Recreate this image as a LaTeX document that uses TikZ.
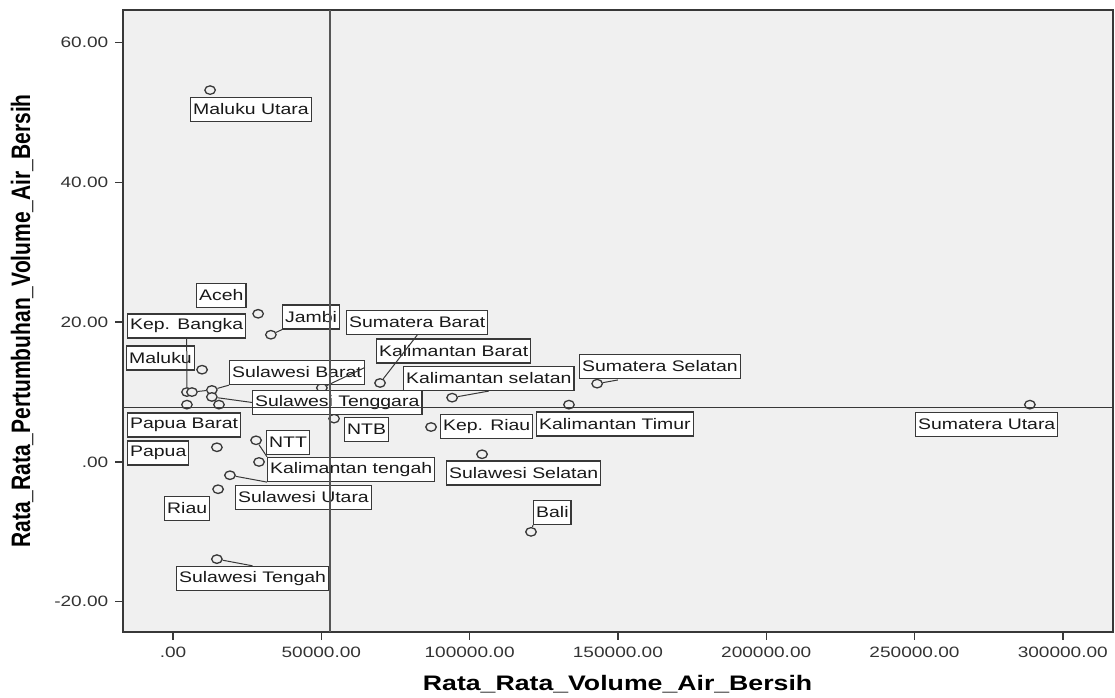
\documentclass[tikz,border=0pt]{standalone}
\usepackage{graphicx}
\usepackage{fontspec}
\setmainfont{Liberation Sans}[FakeStretch=1.27]
\newfontfamily\plainsans{Liberation Sans}
\definecolor{spssPanel}{HTML}{F0F0F0}
\definecolor{spssLine}{HTML}{383838}
\usetikzlibrary{shapes.geometric}

\begin{document}
\begin{tikzpicture}[x=2.966pt, y=6.99pt,
                    obs/.style={ellipse, draw=spssLine, fill=spssPanel, line width=1.3pt,
                                minimum width=10.5pt, minimum height=8.5pt, inner sep=0pt},
                    lbl/.style={draw=spssLine, fill=white, line width=1.3pt, anchor=west,
                                minimum height=24pt, inner xsep=2.5pt, inner ysep=0pt,
                                font=\fontsize{15.3pt}{17pt}\selectfont, text=black!90},
                    lead/.style={draw=spssLine, line width=1pt},
                    tk/.style={draw=spssLine, line width=1.4pt},
                    ticklbl/.style={font=\fontsize{15pt}{17pt}\selectfont, text=black!80, inner sep=0pt},
                    meanln/.style={draw=spssLine},
                    ttl/.style={font=\fontsize{21pt}{24pt}\selectfont\bfseries, inner sep=0pt}
                ]
    \useasboundingbox[fill=white] (-58.33,-33.76) rectangle (317.6,66.09);
    \draw[fill=spssPanel, draw=spssLine, line width=1.4pt] (-16.86,-24.32) rectangle (316.9,64.66);

    \foreach \x/\lab in {0/.00, 50/50000.00, 100/100000.00, 150/150000.00, 200/200000.00, 250/250000.00, 300/300000.00}
        \draw[tk] (\x,-24.32) -- ++(0,-8pt) node[ticklbl, below=6pt] (xt\x) {\lab};
    \foreach \y/\lab in {-20/-20.00, 0/.00, 20/20.00, 40/40.00, 60/60.00}
        \draw[tk] (-16.86,\y) -- ++(-8pt,0) node[ticklbl, left=6pt] (yt\y) {\lab};

    \foreach \n/\x/\y in {1/12.5/53.2, 2/28.7/21.2, 3/33.0/18.2, 4/4.7/10.0, 5/6.4/10.0,
                          6/9.8/13.2, 7/13.1/10.3, 8/13.1/9.3, 9/4.7/8.2, 10/15.5/8.2,
                          11/50.2/10.6, 12/69.8/11.3, 13/54.3/6.2, 14/14.8/2.1, 15/28.0/3.1,
                          16/29.0/0.0, 17/19.2/-1.9, 18/15.2/-3.9, 19/14.8/-13.9, 20/94.1/9.2,
                          21/87.0/5.0, 22/104.2/1.1, 23/133.5/8.2, 24/143.0/11.2, 25/120.7/-10.0,
                          26/288.9/8.2}
        \node[obs] (p\n) at (\x,\y) {};

    \foreach \n/\x/\y/\lab in {mu/5.73/50.43/Maluku Utara, aceh/7.75/23.82/Aceh,
                               jambi/36.75/20.74/Jambi, bangka/-15.51/19.46/Kep. Bangka,
                               maluku/-15.85/14.88/Maluku, sulbar/18.88/12.80/Sulawesi Barat,
                               sumbar/58.33/19.96/Sumatera Barat, kalbar/68.44/15.88/Kalimantan Barat,
                               kalsel/77.55/11.95/Kalimantan selatan, sumsel/136.88/13.66/Sumatera Selatan,
                               sultra/26.64/8.51/Sulawesi Tenggara, pabar/-15.51/5.29/Papua Barat,
                               ntb/57.65/4.65/NTB, kepri/90.02/5.08/Kep. Riau,
                               kaltim/122.39/5.44/Kalimantan Timur, sumut/250.17/5.36/Sumatera Utara,
                               papua/-15.51/1.29/Papua, ntt/31.36/2.79/NTT,
                               kalteng/31.69/-1.07/Kalimantan tengah, sulsel/92.04/-1.57/Sulawesi Selatan,
                               sulut/20.90/-5.08/Sulawesi Utara, riau/-3.03/-6.65/Riau,
                               bali/121.38/-7.22/Bali, sulteng/1.01/-16.67/Sulawesi Tengah}
        \node[lbl] (\n) at (\x,\y) {\lab};

    \coordinate (q24) at (150.0,11.73);
    \draw[lead] (p11) -- ([yshift=5pt]sulbar.east);
    \draw[lead] (p12) -- (sumbar.south);
    \draw[lead] (bangka.south) -- (p4);
    \draw[lead] (p5) -- (p7);
    \draw[lead] (p7) -- (sulbar.south west);
    \draw[lead] (p8) -- (sultra.west);
    \draw[lead] (p3) -- (jambi.south west);
    \draw[lead] (p15) -- (kalteng.north west);
    \draw[lead] (p17) -- (kalteng.south west);
    \draw[lead] (p19) -- (sulteng.north);
    \draw[lead] (p20) -- (kalsel.south);
    \draw[lead] (p24) -- (q24);
    \draw[lead] (p25) -- (bali.south west);

    \draw[meanln, line width=1.8pt, draw=spssLine!85] (52.93,-24.32) -- (52.93,64.66);
    \draw[meanln, line width=1.1pt] (-16.86,7.73) -- (316.9,7.73);

    \node[ttl] (xttl) at (149.9,-31.83) {Rata\_Rata\_Volume\_Air\_Bersih};
    \node[ttl] (yttl) at (-50.9,20.17) {\rotatebox{90}{\scalebox{1}[1.27]{\plainsans\bfseries Rata\_Rata\_Pertumbuhan\_Volume\_Air\_Bersih}}};
\end{tikzpicture}
\end{document}
